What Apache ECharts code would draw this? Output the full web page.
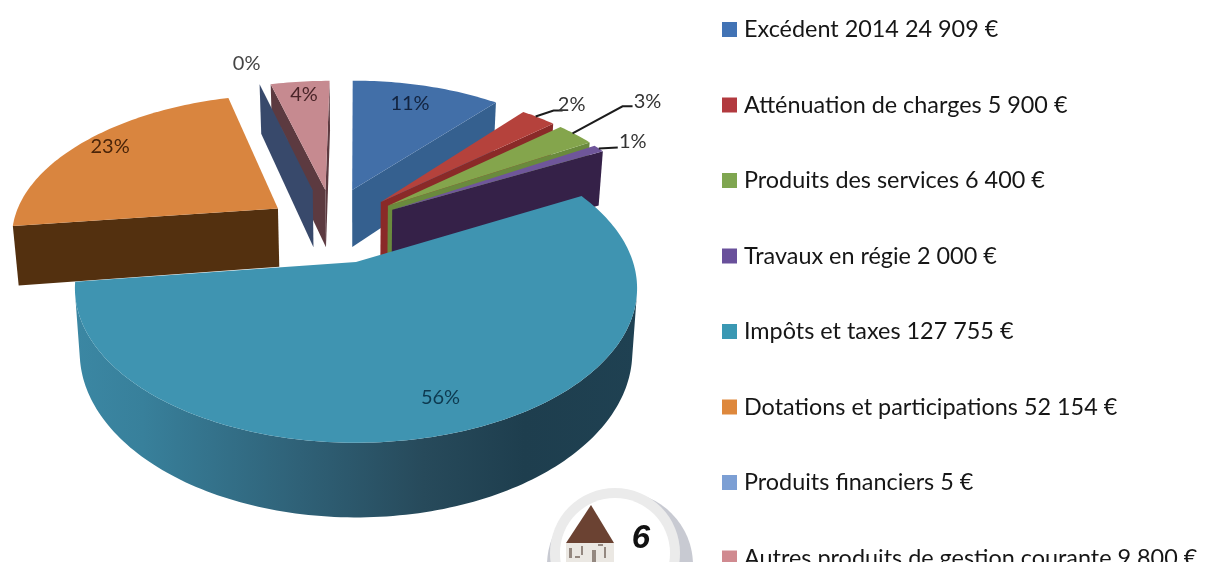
<!DOCTYPE html>
<html><head><meta charset="utf-8">
<style>html,body{margin:0;padding:0;background:#fff;overflow:hidden}#c{width:1205px;height:562px}</style>
<script src="https://cdn.jsdelivr.net/npm/echarts@6/dist/echarts.min.js"></script>
</head><body><div id="c"></div>
<script>
var categories = ['Excédent 2014','Atténuation de charges','Produits des services','Travaux en régie','Impôts et taxes','Dotations et participations','Produits financiers','Autres produits de gestion courante'];
var values = [24909,5900,6400,2000,127755,52154,5,9800];
var amountLabels = ['24 909 €','5 900 €','6 400 €','2 000 €','127 755 €','52 154 €','5 €','9 800 €'];
var percentLabels = ['11%','2%','3%','1%','56%','23%','0%','4%'];

var legendColors = ['#4273b5','#b23a3f','#7fa650','#69509b','#3a98b3','#de883c','#7c9fd4','#d08a90'];
var topColors    = ['#426fa8','#b5423c','#84a54c','#6f569a','#3f94b1','#d9853f','#5f7fb0','#c68a90'];
var wallColors   = ['#35608f','#8a2a28','#6a8a3d','#352148','#2d5a6e','#53300f','#38496b','#5c3a40'];
var labelColors  = ['#12233f','#333','#333','#333','#0e3a50','#4a2409','#444','#4a2428'];
var drawOrder = [7,6,5,0,1,2,3,4];

// explosion of each slice in the pie plane
var explodeU = [-0.015,0.096,0.123,0.139,0,-0.30,-0.17,-0.12];
var explodeV = [0.522,0.43,0.40,0.37,0,0.38,0.52,0.52];
// label offset from the slice's outer mid point, and leader lines
var labelOffsets = [[-17,17],[33,-13],[72,-33],[34,-7],[-17,-35],[25,5],[-13,-21],[4,13]];
var leaders = [null,[[-3,-1],[15,-7],[24,-7]],[[-3,-1],[47,-28],[57,-28]],[[0,0],[19,-1]],null,null,null,null];

var CX=356, CY=262, A=277, B=150, K=0.17, DEPTH=62, SHRINK=0.983;
var total = values.reduce(function(a,b){return a+b;},0);
var starts = []; var acc = 0;
values.forEach(function(v){ starts.push(acc/total*Math.PI*2); acc += v; });

function project(i,r,t){
  var u = r*Math.sin(t)+explodeU[i], v = r*Math.cos(t)+explodeV[i], w = 1+K*v;
  return {x:CX+A*u/w, y:CY-B*v/w, w:w};
}
function low(p){ return [CX+(p.x-CX)*SHRINK, p.y+DEPTH/p.w]; }
function area(p){ var s=0; for(var i=0;i<p.length;i++){var a=p[i],b=p[(i+1)%p.length]; s+=a[0]*b[1]-b[0]*a[1];} return s/2; }

function makeRender(i){
  return function(params, api){
    var value = api.value(0);
    var t1 = starts[i], t2 = t1 + value/total*Math.PI*2;
    var n = Math.max(2, Math.ceil((t2-t1)/0.02));
    var arc = [];
    for(var k=0;k<=n;k++) arc.push(project(i,1,t1+(t2-t1)*k/n));
    var V = project(i,0,0);
    var ch = [];
    var wallFill = wallColors[i];
    // cut walls
    var O1 = arc[0], O2 = arc[n];
    var w1 = [[V.x,V.y],[O1.x,O1.y],low(O1),low(V)];
    var w2 = [[V.x,V.y],[O2.x,O2.y],low(O2),low(V)];
    if(area(w1)<0) ch.push({type:'polygon',shape:{points:w1},style:{fill:wallFill}});
    if(area(w2)>0) ch.push({type:'polygon',shape:{points:w2},style:{fill:wallFill}});
    // outer wall: front facing part only
    var front = [];
    for(k=0;k<n;k++){
      var q=[[arc[k].x,arc[k].y],[arc[k+1].x,arc[k+1].y],low(arc[k+1]),low(arc[k])];
      if(area(q)<0){ if(!front.length) front.push(arc[k]); front.push(arc[k+1]); }
    }
    if(front.length){
      var pts = front.map(function(p){return [p.x,p.y];});
      front.slice().reverse().forEach(function(p){pts.push(low(p));});
      ch.push({type:'polygon',shape:{points:pts},style:{fill:new echarts.graphic.LinearGradient(0,0,1,0,[
        {offset:0,color:'#3b87a3'},{offset:0.12,color:'#38809b'},{offset:0.4,color:'#2f6177'},{offset:0.62,color:'#274a5b'},{offset:0.8,color:'#1e3e4e'},{offset:1,color:'#1f4152'}])}});
    }
    // top face
    var top = [[V.x,V.y]].concat(arc.map(function(p){return [p.x,p.y];}));
    ch.push({type:'polygon',shape:{points:top},style:{fill:topColors[i]}});
    // label and leader
    var mid = project(i,1,(t1+t2)/2);
    if(leaders[i]){
      ch.push({type:'polyline',shape:{points:leaders[i].map(function(p){return [mid.x+p[0],mid.y+p[1]];})},style:{stroke:'#1c1c1c',lineWidth:2,fill:null}});
    }
    ch.push({type:'text',style:{x:mid.x+labelOffsets[i][0],y:mid.y+labelOffsets[i][1],text:percentLabels[i],fill:labelColors[i],font:'20px Lato',align:'center',verticalAlign:'middle'}});
    return {type:'group',children:ch};
  };
}

var names = categories.map(function(c,i){return c+' '+amountLabels[i];});
var series = drawOrder.map(function(i){
  return {type:'custom',name:names[i],coordinateSystem:'none',silent:true,animation:false,
    itemStyle:{color:legendColors[i]},renderItem:makeRender(i),data:[[values[i]]]};
});

var stones = [[569,548,3,10],[581,546,2,9],[592,550,4,12],[604,547,2,11],[575,556,5,2],[598,544,5,2]];
var graphic = [
  {type:'circle',shape:{cx:620,cy:565,r:73},style:{fill:'#c8cad2'},z:1},
  {type:'circle',shape:{cx:615,cy:553,r:65},style:{fill:'#ebebeb'},z:2},
  {type:'circle',shape:{cx:615,cy:553,r:55},style:{fill:'#ffffff'},z:3},
  {type:'polygon',shape:{points:[[591,505],[614,543],[566,543]]},style:{fill:'#6b4232'},z:4},
  {type:'rect',shape:{x:566,y:543,width:48,height:19},style:{fill:'#ebe8e3'},z:4},
  {type:'text',style:{x:641,y:539,text:'6',font:'italic bold 33px "Liberation Sans"',fill:'#111',align:'center',verticalAlign:'middle'},z:5}
].concat(stones.map(function(s){return {type:'rect',shape:{x:s[0],y:s[1],width:s[2],height:s[3]},style:{fill:'#6f5f55',opacity:0.7},z:5};}));

var chart = echarts.init(document.getElementById('c'),null,{renderer:'canvas'});
chart.setOption({
  backgroundColor:'#ffffff',
  animation:false,
  legend:{orient:'vertical',left:717,top:13,height:680,itemWidth:15,itemHeight:15,itemGap:52.5,selectedMode:false,icon:'rect',
    data:names,textStyle:{fontFamily:'Lato',fontSize:23.4,color:'#161616',lineHeight:20,height:20,padding:[0,0,0,2]}},
  graphic:graphic,
  series:series
});
</script></body></html>
